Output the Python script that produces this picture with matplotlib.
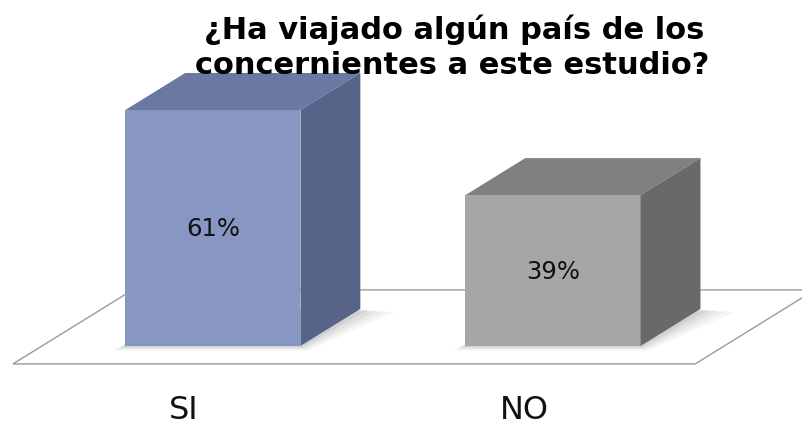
import matplotlib
matplotlib.use('Agg')
import matplotlib.pyplot as plt
from matplotlib.patches import Polygon

plt.rcParams['font.family'] = ['DejaVu Sans']

# datos
categorias = ['SI', 'NO']
porcentajes = [61, 39]
etiquetas = ['61%', '39%']
titulo = ['¿Ha viajado algún país de los', 'concernientes a este estudio?']

# colores (frente, arriba, lado)
colores = [('#8796C3', '#6A78A2', '#586389'),
           ('#A6A6A6', '#808080', '#696969')]

fig = plt.figure(figsize=(8.03, 4.27), dpi=100)
ax = fig.add_axes([0, 0, 1, 1])
ax.set_xlim(-0.626, 1.735)
ax.set_ylim(-20.7, 89.7)
ax.axis('off')

ancho = 0.515
dx = 0.176   # profundidad en x
dy = 9.57    # profundidad en y

# ---------------- piso ----------------
x0, x1 = -0.588, 1.418
y0 = -dy / 2 + 0.13
piso = Polygon([(x0, y0), (x1, y0), (x1 + 2 * dx, y0 + 2 * dy), (x0 + 2 * dx, y0 + 2 * dy)],
               closed=True, facecolor='white', edgecolor='#9a9a9a', linewidth=1.0, zorder=1)
ax.add_patch(piso)

# ---------------- barras 3D ----------------
for i, v in enumerate(porcentajes):
    cf, ct, cs = colores[i]
    xl = i - ancho / 2
    xr = i + ancho / 2

    # sombra difusa
    for k, a in enumerate([0.05, 0.06, 0.08, 0.10]):
        e = 0.018 * (4 - k)
        ey = 1.0 * (4 - k)
        sombra = Polygon([(xl - e * 0.5, -ey * 0.3), (xr + e * 0.3, -ey * 0.3),
                          (xr + dx + e * 1.4, dy - ey * 0.2), (xl + dx, dy)],
                         closed=True, facecolor='#555555', edgecolor='none', alpha=a, zorder=2)
        ax.add_patch(sombra)

    frente = Polygon([(xl, 0), (xr, 0), (xr, v), (xl, v)], closed=True,
                     facecolor=cf, edgecolor='none', zorder=3)
    arriba = Polygon([(xl, v), (xr, v), (xr + dx, v + dy), (xl + dx, v + dy)], closed=True,
                     facecolor=ct, edgecolor='none', zorder=3)
    lado = Polygon([(xr, 0), (xr + dx, dy), (xr + dx, v + dy), (xr, v)], closed=True,
                   facecolor=cs, edgecolor='none', zorder=3)
    ax.add_patch(frente)
    ax.add_patch(arriba)
    ax.add_patch(lado)

    ax.text(i, v / 2, etiquetas[i], ha='center', va='center', fontsize=17.5,
            color='#111111', zorder=5)
    ax.text(i - 0.085, -16.4, categorias[i], ha='center', va='center', fontsize=23,
            color='#111111', zorder=5)

# ---------------- titulo ----------------
fig.text(0.565, 1 - 39 / 427, titulo[0], ha='center', va='baseline', fontsize=22,
         fontweight='bold', color='black')
fig.text(0.5635, 1 - 74 / 427, titulo[1], ha='center', va='baseline', fontsize=22,
         fontweight='bold', color='black')

fig.savefig('out.png', dpi=100)
